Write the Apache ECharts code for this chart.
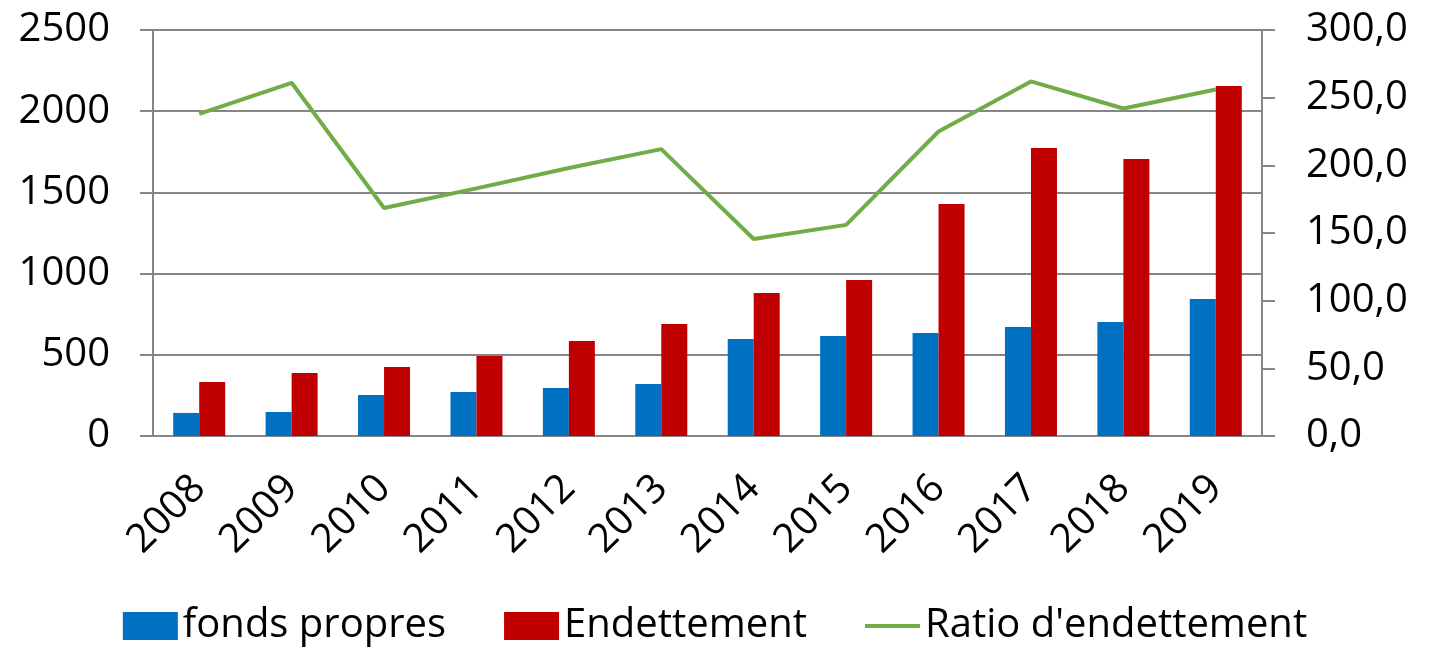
<!DOCTYPE html>
<html>
<head>
<meta charset="utf-8">
<script src="https://cdn.jsdelivr.net/npm/echarts@6/dist/echarts.min.js"></script>
<style>
  html, body { margin: 0; padding: 0; background: #fff; }
  #main { width: 1430px; height: 647px; }
</style>
</head>
<body>
<div id="main"></div>
<script>
// années
const years = ['2008', '2009', '2010', '2011', '2012', '2013', '2014', '2015', '2016', '2017', '2018', '2019'];
// fonds propres
const fondsPropres = [142, 148, 252, 271, 296, 320, 597, 616, 634, 671, 702, 844];
// endettement
const endettement = [333, 388, 425, 493, 585, 690, 880, 960, 1428, 1773, 1706, 2155];
// ratio d'endettement (axe de droite)
const ratio = [238, 261, 168.5, 183, 198, 212, 145.6, 156, 225, 262, 242, 256];

const leftTicks = [0, 2500, 500];   // min, max, interval
const rightTicks = [0, 300, 50];

const axisGray = '#868686';
const font = '"Open Sans", sans-serif';

const myChart = echarts.init(document.getElementById('main'));
myChart.setOption({
    animation: false,
    textStyle: { fontFamily: font },
    grid: {
        left: 153,
        right: 168,
        top: 30,
        bottom: 211
    },
    legend: {
        bottom: -4,
        left: 'center',
        itemWidth: 55,
        itemHeight: 28,
        itemGap: 58,
        symbolKeepAspect: true,
        textStyle: { fontSize: 40, color: '#000', fontFamily: font },
        data: [
            { name: 'fonds propres', icon: 'rect' },
            { name: 'Endettement', icon: 'rect' },
            // trait simple pour la courbe
            { name: "Ratio d'endettement", icon: 'path://M0,0 L56,0 L56,4 L0,4 Z' }
        ]
    },
    xAxis: {
        type: 'category',
        data: years,
        boundaryGap: true,
        axisLine: { lineStyle: { color: axisGray, width: 2 } },
        axisTick: { alignWithLabel: false, length: 13, lineStyle: { color: axisGray, width: 2 } },
        axisLabel: {
            rotate: 45,
            margin: 46,
            fontSize: 40,
            color: '#000',
            fontFamily: font,
            interval: 0
        }
    },
    yAxis: [
        {
            type: 'value',
            min: leftTicks[0],
            max: leftTicks[1],
            interval: leftTicks[2],
            axisLine: { show: true, lineStyle: { color: axisGray, width: 2 } },
            axisTick: { show: true, length: 13, lineStyle: { color: axisGray, width: 2 } },
            splitLine: { show: true, lineStyle: { color: axisGray, width: 2 } },
            axisLabel: {
                margin: 43,
                fontSize: 40,
                color: '#000',
                fontFamily: font,
                formatter: function (v) { return String(v); }
            }
        },
        {
            type: 'value',
            position: 'right',
            min: rightTicks[0],
            max: rightTicks[1],
            interval: rightTicks[2],
            axisLine: { show: true, lineStyle: { color: axisGray, width: 2 } },
            axisTick: { show: true, inside: false, length: 13, lineStyle: { color: axisGray, width: 2 } },
            splitLine: { show: false },
            axisLabel: {
                margin: 44,
                fontSize: 40,
                color: '#000',
                fontFamily: font,
                formatter: function (v) { return v.toFixed(1).replace('.', ','); }
            }
        }
    ],
    series: [
        {
            name: 'fonds propres',
            type: 'bar',
            yAxisIndex: 0,
            barWidth: 26,
            barGap: '0%',
            itemStyle: { color: '#0070C0' },
            data: fondsPropres
        },
        {
            name: 'Endettement',
            type: 'bar',
            yAxisIndex: 0,
            barWidth: 26,
            barGap: '0%',
            itemStyle: { color: '#C00000' },
            data: endettement
        },
        {
            name: "Ratio d'endettement",
            type: 'line',
            yAxisIndex: 1,
            symbol: 'none',
            lineStyle: { color: '#70AD47', width: 4 },
            itemStyle: { color: '#70AD47' },
            data: ratio
        }
    ]
});
window.addEventListener('resize', () => myChart.resize());
</script>
</body>
</html>
